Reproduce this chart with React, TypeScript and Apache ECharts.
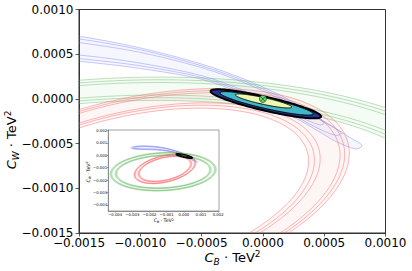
import React, { useEffect, useRef } from "react";
import * as echarts from "echarts";

// ---------- data ----------
const MAIN_TICKS_X = [-0.0015, -0.001, -0.0005, 0, 0.0005, 0.001];
const MAIN_TICKS_Y = [-0.0015, -0.001, -0.0005, 0, 0.0005, 0.001];
const INSET_TICKS_X = [-0.004, -0.003, -0.002, -0.001, 0, 0.001, 0.002];
const INSET_TICKS_Y = [-0.004, -0.003, -0.002, -0.001, 0, 0.001, 0.002];

// ellipse contours: [centre C_B, centre C_W, semi-major, semi-minor, tilt (deg)]
const GREEN_OUTER = [
  [-0.0012, -0.00132, 0.0031, 0.00155, 4.5],
  [-0.0012, -0.00132, 0.00305, 0.00152, 4.5],
  [-0.0012, -0.00132, 0.003, 0.00149, 4.5],
];
const GREEN_INNER = [
  [-0.0012, -0.00132, 0.0028, 0.00135, 4.5],
  [-0.0012, -0.00132, 0.00275, 0.00132, 4.5],
  [-0.0012, -0.00132, 0.0027, 0.00129, 4.5],
];
const RED_OUTER = [
  [-0.0011, -0.00109, 0.0019, 0.00105, 22],
  [-0.0011, -0.00109, 0.00186, 0.00103, 22],
  [-0.0011, -0.00109, 0.00182, 0.00101, 22],
];
const RED_INNER = [
  [-0.0011, -0.00109, 0.00165, 0.00091, 22],
  [-0.0011, -0.00109, 0.0016, 0.00089, 22],
  [-0.0011, -0.00109, 0.00155, 0.00086, 22],
];
// combined best-fit region (outer, middle, inner level)
const BEST_FIT = [
  [0.000024, -0.000055, 0.000473, 0.000076, -17.9],
  [0.00003, -0.00005, 0.000398, 0.000058, -17.5],
  [0.000005, -0.000023, 0.00024, 0.000037, -16.9],
];
const BEST_POINT = [[0, 0]];

// curved blue contours, points [C_B, C_W]
const BLUE_OUTER = [
  [-0.0031, 0.0006], [-0.0029, 0.00072], [-0.0024, 0.00077], [-0.0019, 0.00075],
  [-0.0015, 0.0007], [-0.001, 0.00057], [-0.0005, 0.00039], [-0.00015, 0.00022],
  [0.0002, 0.0], [0.0005, -0.00025], [0.00072, -0.00044], [0.00081, -0.00052],
  [0.00076, -0.00056], [0.0006, -0.00048], [0.00045, -0.00036], [0.0003, -0.00024],
  [0.0001, -0.00011], [-0.00015, 0.00005], [-0.0005, 0.00022], [-0.001, 0.00034],
  [-0.0015, 0.00042], [-0.002, 0.00046], [-0.0026, 0.00049], [-0.003, 0.00052],
];
const BLUE_MID = [
  [-0.003, 0.00061], [-0.0028, 0.0007], [-0.0024, 0.00074], [-0.0019, 0.00072],
  [-0.0015, 0.00067], [-0.001, 0.00055], [-0.0005, 0.00037], [-0.00015, 0.0002],
  [0.0002, -0.00002], [0.0005, -0.00026], [0.00064, -0.00038],
  [0.0006, -0.00041], [0.00045, -0.00033], [0.0003, -0.00022], [0.0001, -0.00009],
  [-0.00015, 0.00007], [-0.0005, 0.00024], [-0.001, 0.00037], [-0.0015, 0.00045],
  [-0.002, 0.00049], [-0.0026, 0.00051], [-0.0029, 0.00054],
];
const BLUE_INNER = [
  [-0.0029, 0.00061], [-0.0027, 0.00068], [-0.0023, 0.00071], [-0.0019, 0.00068],
  [-0.0015, 0.00063], [-0.001, 0.00052], [-0.0005, 0.00035], [-0.00015, 0.00018],
  [0.0002, -0.00004], [0.00042, -0.0002], [0.0005, -0.00027],
  [0.00046, -0.00029], [0.0003, -0.0002], [0.0001, -0.00007], [-0.00015, 0.00009],
  [-0.0005, 0.00026], [-0.001, 0.0004], [-0.0015, 0.00049], [-0.002, 0.00052],
  [-0.0025, 0.00053], [-0.0028, 0.00056],
];
const BLUE_CONTOURS = [BLUE_OUTER, BLUE_MID, BLUE_INNER];

// ---------- styling ----------
const FONT = "DejaVu Sans";
const BLUE_LINE = "rgba(105,115,240,0.42)";
const GREEN_LINE = "rgba(95,180,95,0.45)";
const RED_LINE = "rgba(245,100,100,0.5)";

const fmt = (d: number) => (v: number) => {
  const x = Math.abs(v) < 1e-12 ? 0 : v;
  return (x < 0 ? "\u2212" : "") + Math.abs(x).toFixed(d);
};

function ellipsePts(api: any, e: number[], reverse = false) {
  const [cx, cy, a, b, deg] = e;
  const th = (deg * Math.PI) / 180;
  const c = Math.cos(th);
  const s = Math.sin(th);
  const pts: number[][] = [];
  const N = 160;
  for (let i = 0; i <= N; i++) {
    const t = ((reverse ? -1 : 1) * 2 * Math.PI * i) / N;
    const ct = Math.cos(t);
    const st = Math.sin(t);
    pts.push(api.coord([cx + a * ct * c - b * st * s, cy + a * ct * s + b * st * c]));
  }
  return pts;
}

function buildSeries(ax: number, zb: number) {
  const common: any = {
    type: "custom",
    xAxisIndex: ax,
    yAxisIndex: ax,
    clip: true,
    silent: true,
    encode: { x: 0, y: 1 },
  };
  const ringFill = (outer: number[][], inner: number[][], fill: string) => ({
    ...common,
    z: zb,
    data: [[outer[0][0], outer[0][1]]],
    renderItem: (_p: any, api: any) => ({
      type: "polygon",
      shape: {
        points: ellipsePts(api, outer[0]).concat(ellipsePts(api, inner[inner.length - 1], true)),
      },
      style: { fill, stroke: "none" },
    }),
  });
  const ellLines = (list: number[][], stroke: string) => ({
    ...common,
    z: zb + 0.1,
    data: list,
    renderItem: (_p: any, api: any) => ({
      type: "polyline",
      shape: {
        points: ellipsePts(api, [api.value(0), api.value(1), api.value(2), api.value(3), api.value(4)]),
      },
      style: { fill: "none", stroke, lineWidth: 0.9 },
    }),
  });
  const s: any[] = [];
  // blue
  s.push({
    ...common,
    z: zb,
    data: [[BLUE_OUTER[6][0], BLUE_OUTER[6][1]]],
    renderItem: (_p: any, api: any) => ({
      type: "polygon",
      shape: { points: BLUE_OUTER.map((pt) => api.coord(pt)), smooth: 0.3 },
      style: { fill: "rgba(130,140,235,0.07)", stroke: "none" },
    }),
  });
  s.push({
    ...common,
    z: zb + 0.1,
    data: BLUE_CONTOURS.map((c, i) => [c[6][0], c[6][1], i]),
    renderItem: (_p: any, api: any) => ({
      type: "polygon",
      shape: { points: BLUE_CONTOURS[api.value(2)].map((pt) => api.coord(pt)), smooth: 0.3 },
      style: { fill: "none", stroke: BLUE_LINE, lineWidth: 0.9 },
    }),
  });
  // green
  s.push(ringFill(GREEN_OUTER, GREEN_INNER, "rgba(120,200,120,0.07)"));
  s.push(ellLines(GREEN_OUTER, GREEN_LINE));
  s.push(ellLines(GREEN_INNER, GREEN_LINE));
  // red
  s.push(ringFill(RED_OUTER, RED_INNER, "rgba(245,130,130,0.08)"));
  s.push(ellLines(RED_OUTER, RED_LINE));
  s.push(ellLines(RED_INNER, RED_LINE));
  // best fit filled levels
  const fills = ["#253494", "#41b6c4", "#edf8b1"];
  const widths = [2, 1, 0.9];
  s.push({
    ...common,
    z: zb + 1,
    data: BEST_FIT.map((e, i) => [...e, i]),
    renderItem: (_p: any, api: any) => {
      const i = api.value(5);
      return {
        type: "polygon",
        shape: {
          points: ellipsePts(api, [api.value(0), api.value(1), api.value(2), api.value(3), api.value(4)]),
        },
        style: { fill: fills[i], stroke: "#000", lineWidth: widths[i] },
        z2: i,
      };
    },
  });
  return s;
}

type Part = { t: string; size: number; italic?: boolean; dy: number };

function mathLabel(parts: Part[], x: number, y: number, rotation: number) {
  const ctx = document.createElement("canvas").getContext("2d")!;
  let cur = 0;
  const children: any[] = [];
  parts.forEach((p) => {
    ctx.font = `${p.italic ? "italic " : ""}${p.size}px "${FONT}"`;
    const w = ctx.measureText(p.t).width;
    children.push({
      type: "text",
      x: cur,
      y: p.dy - 0.35 * p.size,
      style: {
        text: p.t,
        fontSize: p.size,
        fontStyle: p.italic ? "italic" : "normal",
        fontFamily: FONT,
        fill: "#000",
        align: "left",
        verticalAlign: "middle",
      },
    });
    cur += w;
  });
  children.forEach((c) => (c.x -= cur / 2));
  return { type: "group", x, y, rotation, children, silent: true };
}

const labelParts = (sub: string, k: number): Part[] => [
  { t: "C", size: 13 * k, italic: true, dy: 0 },
  { t: sub, size: 9 * k, italic: true, dy: 2.8 * k },
  { t: " \u00b7 TeV", size: 13 * k, dy: 0 },
  { t: "2", size: 9 * k, dy: -5 * k },
];

export default function App() {
  const ref = useRef<HTMLDivElement>(null);
  useEffect(() => {
    document.body.style.margin = "0";
    const chart = echarts.init(ref.current!, undefined, { renderer: "svg" });
    const axisCommon = (ticks: number[], digits: number, fs: number, color: string, tickLen: number, margin: number) => ({
      type: "value",
      splitLine: { show: false },
      axisLine: { show: true, onZero: false, lineStyle: { color, width: 1 } },
      axisTick: { show: true, length: tickLen, customValues: ticks, lineStyle: { color, width: 0.8 } },
      axisLabel: {
        customValues: ticks,
        formatter: fmt(digits),
        fontSize: fs,
        fontFamily: FONT,
        color: "#000",
        margin,
      },
    });
    chart.setOption({
      animation: false,
      backgroundColor: "#fff",
      grid: [
        {
          left: 79,
          top: 9.5,
          width: 306.5,
          height: 223.5,
          show: true,
          borderColor: "#333",
          borderWidth: 1,
          backgroundColor: "transparent",
          outerBoundsMode: "none",
          containLabel: false,
        },
        {
          left: 108.3,
          top: 130,
          width: 110.7,
          height: 81,
          show: true,
          backgroundColor: "#fff",
          borderColor: "#8a8a8a",
          borderWidth: 0.8,
          z: 5,
          outerBoundsMode: "none",
          containLabel: false,
        },
      ],
      xAxis: [
        { ...axisCommon(MAIN_TICKS_X, 4, 12, "#333", 3.5, 4), gridIndex: 0, min: -0.0015, max: 0.001 },
        { ...axisCommon(INSET_TICKS_X, 3, 3.8, "#8a8a8a", 1.5, 1), gridIndex: 1, min: -0.0044, max: 0.00205, z: 6 },
      ],
      yAxis: [
        { ...axisCommon(MAIN_TICKS_Y, 4, 12, "#333", 3.5, 5.5), gridIndex: 0, min: -0.0015, max: 0.001 },
        { ...axisCommon(INSET_TICKS_Y, 3, 3.8, "#8a8a8a", 1.5, 1.2), gridIndex: 1, min: -0.0045, max: 0.00205, z: 6 },
      ],
      series: [
        ...buildSeries(0, 2),
        {
          type: "scatter",
          xAxisIndex: 0,
          yAxisIndex: 0,
          data: BEST_POINT,
          symbol: "circle",
          symbolSize: 7,
          itemStyle: { color: "#6fd17f", borderColor: "#1b5e20", borderWidth: 0.8, opacity: 1 },
          z: 8,
          silent: true,
        },
        {
          type: "scatter",
          xAxisIndex: 0,
          yAxisIndex: 0,
          data: BEST_POINT,
          symbol: "path://M0,0L10,10M10,0L0,10",
          symbolSize: 4,
          itemStyle: { color: "transparent", borderColor: "#1b5e20", borderWidth: 0.8, opacity: 1 },
          z: 9,
          silent: true,
        },
        ...buildSeries(1, 10),
      ],
      graphic: [
        mathLabel(labelParts("B", 1), 232.5, 262, 0),
        mathLabel(labelParts("W", 1), 16.5, 140, Math.PI / 2),
        { ...mathLabel(labelParts("B", 0.36), 163.7, 222.5, 0), z: 20 },
        { ...mathLabel(labelParts("W", 0.36), 90, 172, Math.PI / 2), z: 20 },
      ],
    });
    return () => chart.dispose();
  }, []);
  return <div ref={ref} style={{ width: 412, height: 271 }} />;
}
